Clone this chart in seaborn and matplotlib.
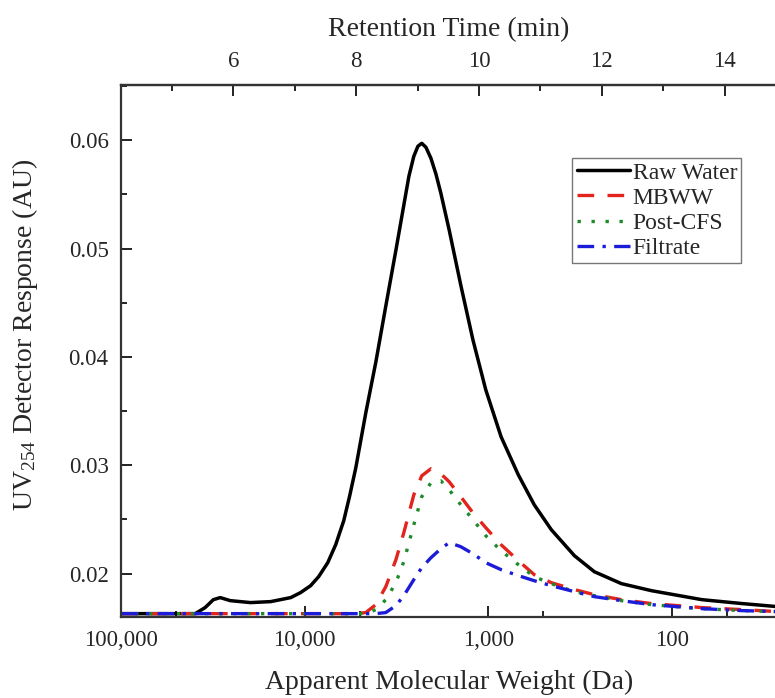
import numpy as np
import pandas as pd
import matplotlib
matplotlib.use("Agg")
import matplotlib.pyplot as plt
import seaborn as sns
from matplotlib.ticker import FixedLocator, FuncFormatter, MultipleLocator

# Raw water trace: apparent molecular weight (Da) and UV254 response (AU)
mw_raw = [100000, 39400, 34800, 31400, 28800, 25400, 19700, 15300, 11900, 10520,
          9270, 8385, 7480, 6770, 6120, 5678, 5260, 4640, 4090, 3610,
          3180, 2880, 2702, 2540, 2413, 2300, 2182, 2050, 1924, 1810,
          1630, 1410, 1210, 1030, 850, 685, 561, 453, 339, 264,
          188, 129, 68.5, 41.4, 26.7]
raw_water = [0.01631, 0.01631, 0.01687, 0.01760, 0.01779, 0.01751, 0.01733, 0.01742, 0.01779, 0.01825,
             0.01889, 0.01972, 0.02101, 0.02267, 0.02488, 0.02719, 0.02977, 0.03484, 0.03954, 0.04470,
             0.04986, 0.05401, 0.05668, 0.05853, 0.05945, 0.05972, 0.05935, 0.05834, 0.05687, 0.05512,
             0.05171, 0.04664, 0.04157, 0.03696, 0.03263, 0.02912, 0.02636, 0.02406, 0.02166, 0.02018,
             0.01908, 0.01843, 0.01760, 0.01724, 0.01696]

# Treated-water traces share one molecular weight grid (Da)
mw = [100000, 61200, 39400, 34800, 31400, 28800, 25400, 19700, 15300, 11900,
      9270, 7480, 6120, 5260, 4640, 4090, 3610, 3180, 2880, 2540,
      2300, 2050, 1810, 1630, 1410, 1210, 1030, 850, 685, 561,
      453, 339, 264, 188, 129, 68.5, 41.4, 26.7]

mbww = [0.01631] * 14 + [0.01641, 0.01714, 0.01880, 0.02129, 0.02378, 0.02728,
        0.02903, 0.02968, 0.02922, 0.02848, 0.02710, 0.02562, 0.02424, 0.02267, 0.02120, 0.01991,
        0.01917, 0.01853, 0.01806, 0.01760, 0.01724, 0.01687, 0.01668, 0.01650]

post_cfs = [0.01631] * 15 + [0.01668, 0.01760, 0.01917, 0.02111, 0.02452,
            0.02710, 0.02839, 0.02857, 0.02774, 0.02636, 0.02498, 0.02350, 0.02212, 0.02083, 0.01972,
            0.01908, 0.01834, 0.01797, 0.01751, 0.01714, 0.01677, 0.01659, 0.01650]

filtrate = [0.01631] * 16 + [0.01641, 0.01705, 0.01797, 0.01945,
            0.02055, 0.02147, 0.02230, 0.02286, 0.02249, 0.02184, 0.02101, 0.02037, 0.01982, 0.01935,
            0.01889, 0.01834, 0.01788, 0.01751, 0.01714, 0.01677, 0.01659, 0.01650]

series_names = ["Raw Water", "MBWW", "Post-CFS", "Filtrate"]
mw_ticks = [100000, 10000, 1000, 100]
mw_tick_labels = ["100,000", "10,000", "1,000", "100"]
time_ticks = [6, 8, 10, 12, 14]
y_ticks = [0.02, 0.03, 0.04, 0.05, 0.06]

sns.set_style("ticks")
plt.rcParams["font.family"] = ["Liberation Serif", "DejaVu Serif"]
plt.rcParams["mathtext.fontset"] = "custom"
plt.rcParams["mathtext.rm"] = "Liberation Serif"
plt.rcParams["mathtext.it"] = "Liberation Serif:italic"

fig = plt.figure(figsize=(7.75, 6.98), dpi=100)
ax = fig.add_axes([121 / 775, 81 / 698, 656 / 775, 532 / 698])

styles = [
    dict(color="black", linestyle="-", lw=2.5),
    dict(color="#e3241c", linestyle=(0, (5, 4)), lw=2.4),
    dict(color="#1f8a2a", linestyle=(0, (1, 3.2)), lw=2.4),
    dict(color="#1c1cd8", linestyle=(0, (5, 2.5, 1, 2.5)), lw=2.4),
]
xs = [mw_raw, mw, mw, mw]
for name, x, vals, st in zip(series_names, xs, [raw_water, mbww, post_cfs, filtrate], styles):
    df = pd.DataFrame({"mw": x, "resp": vals})
    sns.lineplot(data=df, x="mw", y="resp", ax=ax, label=name, lw=st["lw"],
                 color=st["color"], linestyle=st["linestyle"], sort=False)

ax.set_xscale("log")
ax.set_xlim(100000, 26.7)
ax.set_ylim(0.0160, 0.0651)

ax.xaxis.set_major_locator(FixedLocator(mw_ticks))
ax.set_xticklabels(mw_tick_labels)
ax.xaxis.set_minor_locator(FixedLocator([50000, 5000, 500, 50]))
ax.xaxis.set_minor_formatter(FuncFormatter(lambda v, p: ""))
ax.yaxis.set_major_locator(FixedLocator(y_ticks))
ax.yaxis.set_major_formatter(FuncFormatter(lambda v, p: f"{v:.2f}"))
ax.yaxis.set_minor_locator(MultipleLocator(0.005))

ax.tick_params(which="major", direction="in", length=8, width=1.4, labelsize=16.5, pad=9, color="#222222")
ax.tick_params(which="minor", direction="in", length=4.5, width=1.4, color="#222222")
for s in ["left", "bottom", "top"]:
    ax.spines[s].set_linewidth(1.6)
    ax.spines[s].set_color("#333333")
ax.spines["right"].set_visible(False)

ax.set_xlabel("Apparent Molecular Weight (Da)", fontsize=20, labelpad=14)
ax.set_ylabel("UV$_{254}$ Detector Response (AU)", fontsize=20)
ax.yaxis.set_label_coords(-0.1235, 0.53)


def mw_to_t(m):
    m = np.clip(np.asarray(m, dtype=float), 1e-6, None)
    return 4.17 + (5 - np.log10(m)) * 2.99


def t_to_mw(t):
    return 10 ** (5 - (np.asarray(t, dtype=float) - 4.17) / 2.99)


sec = ax.secondary_xaxis("top", functions=(mw_to_t, t_to_mw))
sec.xaxis.set_major_locator(FixedLocator(time_ticks))
sec.xaxis.set_major_formatter(FuncFormatter(lambda v, p: f"{v:g}"))
sec.xaxis.set_minor_locator(FixedLocator([5, 7, 9, 11, 13, 15]))
sec.xaxis.set_minor_formatter(FuncFormatter(lambda v, p: ""))
sec.tick_params(which="major", direction="in", length=8, width=1.4, labelsize=16.5, pad=9, color="#222222")
sec.tick_params(which="minor", direction="in", length=4.5, width=1.4, color="#222222")
sec.spines["top"].set_linewidth(1.6)
sec.spines["top"].set_color("#333333")
sec.set_xlabel("Retention Time (min)", fontsize=20, labelpad=11)

leg = ax.legend(loc="upper left", bbox_to_anchor=(0.688, 0.863), borderaxespad=0,
                fontsize=17, handlelength=2.25, handletextpad=0.12, borderpad=0.18,
                labelspacing=0.15, fancybox=False, frameon=True)
leg.get_frame().set_edgecolor("#555555")
leg.get_frame().set_linewidth(1.0)

fig.savefig("out.png", dpi=100)
